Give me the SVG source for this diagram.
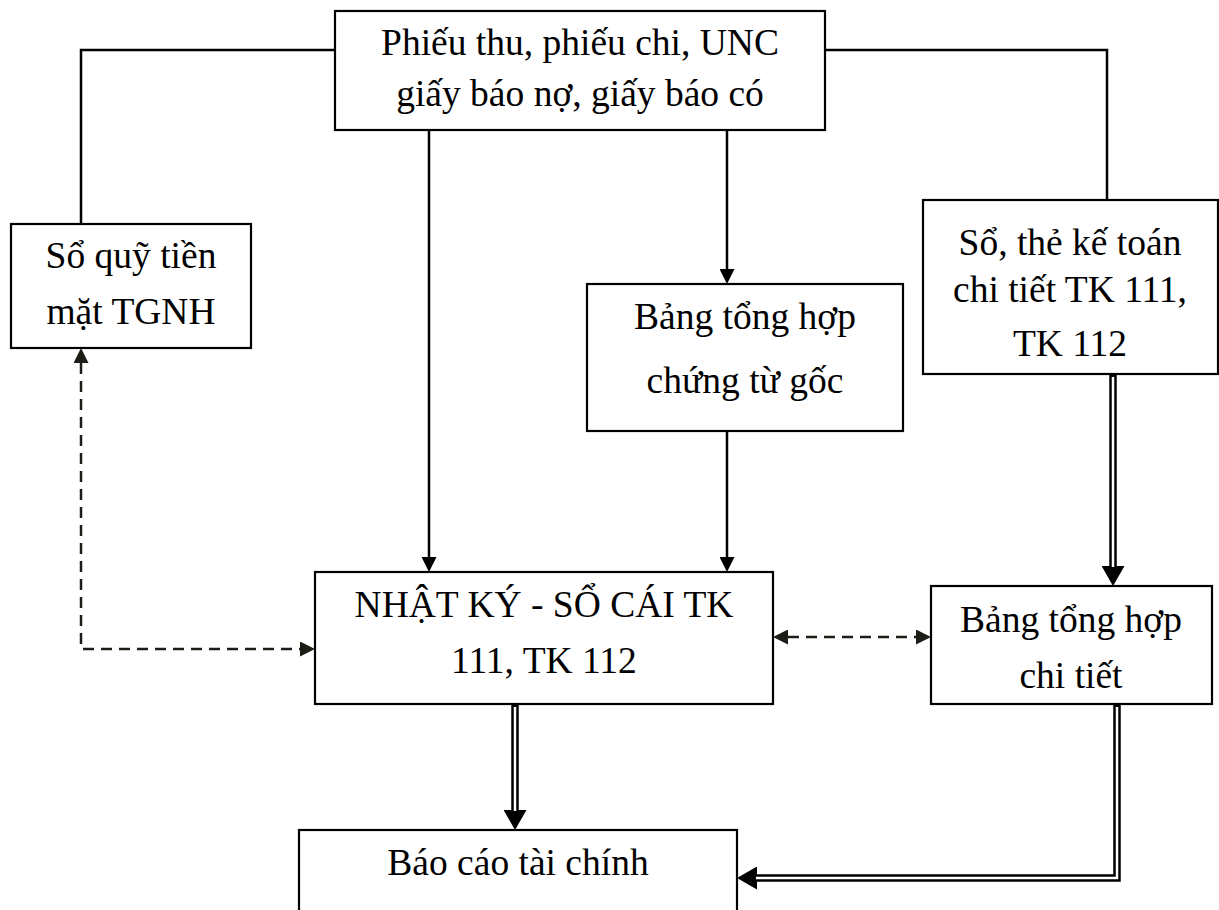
<svg xmlns="http://www.w3.org/2000/svg" width="1219" height="910" viewBox="0 0 1219 910">
<style>
.box{fill:#fff;stroke:#000;stroke-width:2.2}
.t{font-family:"Liberation Serif","Times New Roman",serif;font-size:37.5px;fill:#000;text-anchor:middle}
.ln{fill:none;stroke:#000;stroke-width:2.5}
.ds{fill:none;stroke:#1e1c16;stroke-width:2.5;stroke-dasharray:11 7}
.dbo{fill:none;stroke:#000;stroke-width:7.5;stroke-linejoin:miter}
.dbi{fill:none;stroke:#fff;stroke-width:2.5;stroke-linejoin:miter}
</style>
<defs>
<marker id="a1" markerUnits="userSpaceOnUse" markerWidth="15" markerHeight="15" viewBox="0 0 15 15" refX="0" refY="7.5" orient="auto"><path d="M0,0 L15,7.5 L0,15 z" fill="#000"/></marker>
<marker id="ad" markerUnits="userSpaceOnUse" markerWidth="15" markerHeight="15" viewBox="0 0 15 15" refX="0" refY="7.5" orient="auto-start-reverse"><path d="M0,0 L15,7.5 L0,15 z" fill="#1e1c16"/></marker>
<marker id="a2" markerUnits="userSpaceOnUse" markerWidth="20" markerHeight="23" viewBox="0 0 20 23" refX="0" refY="11.5" orient="auto"><path d="M0,0 L20,11.5 L0,23 z" fill="#000"/></marker>
</defs>
<g id="connectors">
<path class="ln" d="M335,50 H81 V224"/>
<path class="ln" d="M825,50 H1107 V200"/>
<path class="ln" d="M429,130 V557" marker-end="url(#a1)"/>
<path class="ln" d="M727,130 V269" marker-end="url(#a1)"/>
<path class="ln" d="M727,431 V557" marker-end="url(#a1)"/>
<path class="ds" d="M81,363 V649 H300" marker-start="url(#ad)" marker-end="url(#ad)"/>
<path class="ds" d="M788,637 H916" marker-start="url(#ad)" marker-end="url(#ad)"/>
<path class="dbo" d="M1113,375 V566" marker-end="url(#a2)"/>
<path class="dbi" d="M1113,377 V567"/>
<path class="dbo" d="M515,705 V810" marker-end="url(#a2)"/>
<path class="dbi" d="M515,707 V811"/>
<path class="dbo" d="M1117,705 V878 H757" marker-end="url(#a2)"/>
<path class="dbi" d="M1117,707 V878 H756"/>
</g>
<g id="n-chungtu">
<rect class="box" x="335" y="11" width="490" height="119"/>
<text class="t" x="580" y="55">Phiếu thu, phiếu chi, UNC</text>
<text class="t" x="580" y="106">giấy báo nợ, giấy báo có</text>
</g>
<g id="n-soquy">
<rect class="box" x="11" y="224" width="240" height="124"/>
<text class="t" x="131" y="268">Sổ quỹ tiền</text>
<text class="t" x="131" y="324">mặt TGNH</text>
</g>
<g id="n-sothe">
<rect class="box" x="923" y="200" width="295" height="174"/>
<text class="t" x="1070" y="255">Sổ, thẻ kế toán</text>
<text class="t" x="1070" y="302">chi tiết TK 111,</text>
<text class="t" x="1070" y="356">TK 112</text>
</g>
<g id="n-bangthct">
<rect class="box" x="587" y="284" width="316" height="147"/>
<text class="t" x="745" y="329">Bảng tổng hợp</text>
<text class="t" x="745" y="393">chứng từ gốc</text>
</g>
<g id="n-nhatky">
<rect class="box" x="315" y="572" width="458" height="132"/>
<text class="t" x="544" y="617">NHẬT KÝ - SỔ CÁI TK</text>
<text class="t" x="544" y="673">111, TK 112</text>
</g>
<g id="n-bangthchitiet">
<rect class="box" x="931" y="586" width="281" height="118"/>
<text class="t" x="1071" y="632">Bảng tổng hợp</text>
<text class="t" x="1071" y="688">chi tiết</text>
</g>
<g id="n-baocao">
<rect class="box" x="299" y="830" width="438" height="100"/>
<text class="t" x="518" y="875">Báo cáo tài chính</text>
</g>
</svg>
